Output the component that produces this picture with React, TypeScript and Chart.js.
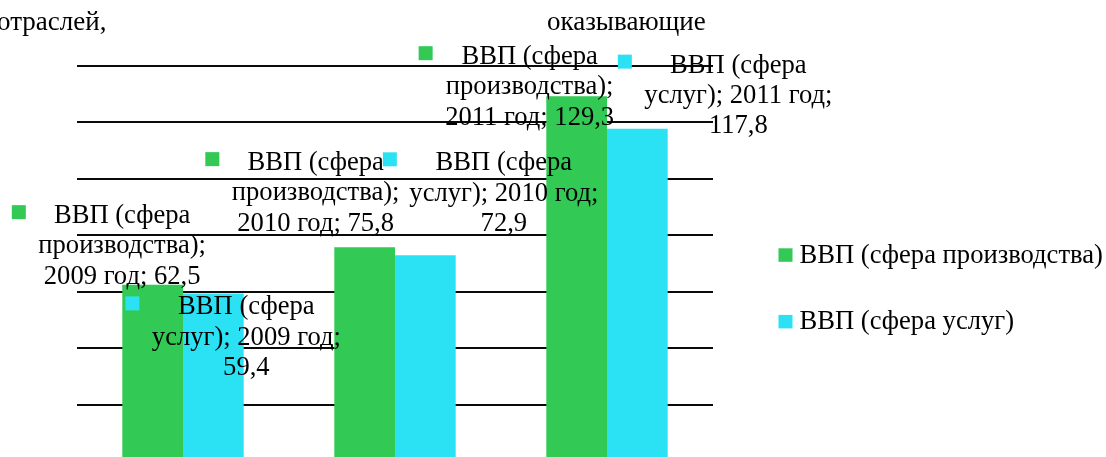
import React, { useEffect, useRef } from 'react';
import { Chart, registerables } from 'chart.js';

Chart.register(...registerables);

// ---- data ----
const categories = ['2009 год', '2010 год', '2011 год'];
const seriesNames = ['ВВП (сфера производства)', 'ВВП (сфера услуг)'];
const productionValues = [62.5, 75.8, 129.3];
const servicesValues = [59.4, 72.9, 117.8];
const yTickStep = 20;
const yMin = 0;
const yMax = 140;
const titleFragments = ['отраслей,', 'оказывающие'];

// ---- styles ----
const COLORS = ['#32C955', '#2BE2F4'];
const FONT = '"Liberation Serif", "Times New Roman", Times, serif';
const LABEL_FONT_SIZE = 26.6;
const LABEL_LINE_HEIGHT = 30.3;
const LABEL_WRAP_WIDTH = 210;
// offsets of each data label (text centre x, first baseline y) relative to bar centre / bar top
const labelOffsets = [
  [[-30.5, -61.5], [-49, -77], [-47, -32]],
  [[33, 21], [78.5, -85], [101, -56]],
];

const fmt = (v: number) => v.toFixed(1).replace('.', ',');

function wrapText(ctx: CanvasRenderingContext2D, text: string, maxW: number): string[] {
  const words = text.split(' ');
  const lines: string[] = [];
  let cur = '';
  for (const w of words) {
    const test = cur ? cur + ' ' + w : w;
    if (cur && ctx.measureText(test).width > maxW) {
      lines.push(cur);
      cur = w;
    } else {
      cur = test;
    }
  }
  if (cur) lines.push(cur);
  return lines;
}

const excelLabels = {
  id: 'excelLabels',
  afterDatasetsDraw(chart: any) {
    const ctx: CanvasRenderingContext2D = chart.ctx;
    ctx.save();
    ctx.font = `${LABEL_FONT_SIZE}px ${FONT}`;
    ctx.textBaseline = 'alphabetic';
    chart.data.datasets.forEach((ds: any, di: number) => {
      const meta = chart.getDatasetMeta(di);
      meta.data.forEach((bar: any, i: number) => {
        const v = ds.data[i];
        const text = `${ds.label}; ${chart.data.labels[i]}; ${fmt(v)}`;
        const lines = wrapText(ctx, text, LABEL_WRAP_WIDTH);
        const [dx, dy] = labelOffsets[di][i];
        const cx = bar.x + dx;
        const y0 = bar.y + dy;
        const maxW = Math.max(...lines.map((l) => ctx.measureText(l).width));
        ctx.fillStyle = ds.backgroundColor;
        ctx.fillRect(cx - maxW / 2 - 12.5 - 14, y0 - 18, 14, 14);
        ctx.fillStyle = '#000';
        ctx.textAlign = 'center';
        lines.forEach((l, k) => ctx.fillText(l, cx, y0 + k * LABEL_LINE_HEIGHT));
      });
    });
    ctx.restore();
  },
};

const sideLegend = {
  id: 'sideLegend',
  afterDraw(chart: any) {
    const ctx: CanvasRenderingContext2D = chart.ctx;
    ctx.save();
    ctx.font = `${LABEL_FONT_SIZE}px ${FONT}`;
    ctx.textAlign = 'left';
    ctx.textBaseline = 'alphabetic';
    const x = chart.chartArea.right + 65.5;
    const firstBaseline = 262.7;
    const rowGap = 66.6;
    chart.data.datasets.forEach((ds: any, di: number) => {
      const by = firstBaseline + di * rowGap;
      ctx.fillStyle = ds.backgroundColor;
      ctx.fillRect(x, by - 14.4, 14, 13.5);
      ctx.fillStyle = '#000';
      ctx.fillText(ds.label, x + 21, by);
    });
    ctx.restore();
  },
};

const titleBits = {
  id: 'titleBits',
  afterDraw(chart: any) {
    const ctx: CanvasRenderingContext2D = chart.ctx;
    ctx.save();
    ctx.font = `27px ${FONT}`;
    ctx.fillStyle = '#000';
    ctx.textAlign = 'left';
    ctx.textBaseline = 'alphabetic';
    ctx.fillText(titleFragments[0], -3, 30);
    ctx.fillText(titleFragments[1], 547, 30);
    ctx.restore();
  },
};

export default function App() {
  const ref = useRef<HTMLCanvasElement | null>(null);

  useEffect(() => {
    if (!ref.current) return;
    const chart = new Chart(ref.current, {
      type: 'bar',
      data: {
        labels: categories,
        datasets: [
          {
            label: seriesNames[0],
            data: productionValues,
            backgroundColor: COLORS[0],
            borderWidth: 0,
            categoryPercentage: 0.5726,
            barPercentage: 1,
          },
          {
            label: seriesNames[1],
            data: servicesValues,
            backgroundColor: COLORS[1],
            borderWidth: 0,
            categoryPercentage: 0.5726,
            barPercentage: 1,
          },
        ],
      },
      options: {
        responsive: false,
        animation: false,
        layout: { padding: { left: 77, right: 393, top: 66, bottom: 9 } },
        plugins: {
          legend: { display: false },
          title: { display: false },
          tooltip: { enabled: false },
        },
        scales: {
          x: { display: false },
          y: {
            display: true,
            min: yMin,
            max: yMax,
            ticks: { display: false, stepSize: yTickStep },
            border: { display: false },
            grid: { color: '#0a0a0a', lineWidth: 2, drawTicks: false },
          },
        },
      },
      plugins: [excelLabels, sideLegend, titleBits],
    });
    return () => chart.destroy();
  }, []);

  return (
    <div
      style={{
        position: 'fixed',
        left: 0,
        top: 0,
        width: 1106,
        height: 457,
        overflow: 'hidden',
        background: '#fff',
      }}
    >
      <canvas ref={ref} width={1106} height={470} style={{ display: 'block' }} />
    </div>
  );
}
